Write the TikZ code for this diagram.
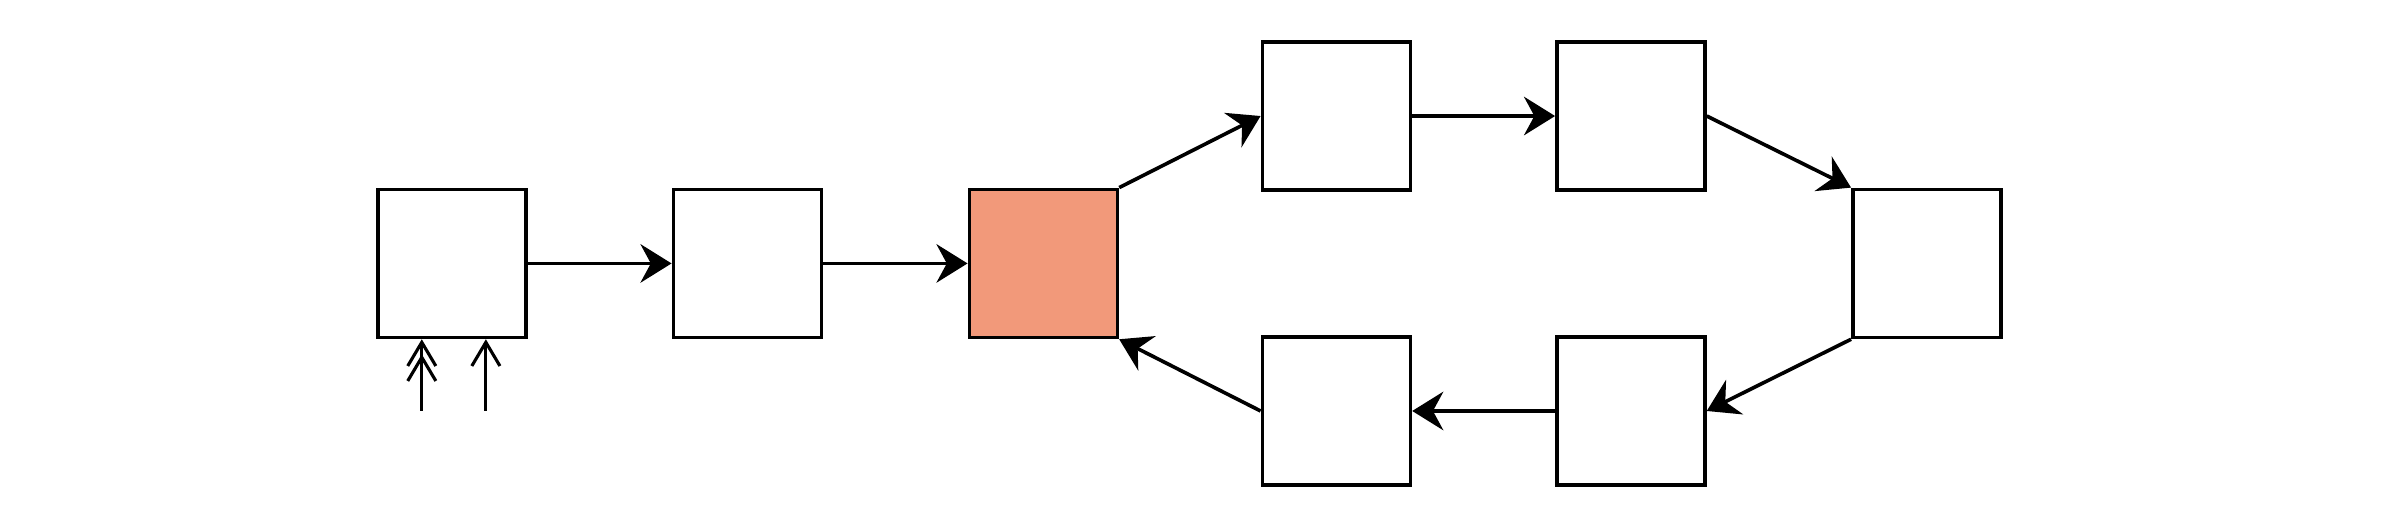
\documentclass[tikz,border=0pt]{standalone}
\usepackage{tikz}
\usetikzlibrary{arrows.meta, positioning}
\definecolor{mysalmon}{HTML}{F2997A}
\tikzset{
	boxnode/.style={
			shape=rectangle,
			draw=black,
			line width=0.7pt,
			fill=white,
			minimum size=10mm,
			inner sep=0pt
		},
	hotnode/.style={
			boxnode,
			fill=mysalmon
		},
	flow/.style={
			line width=0.7pt,
			-{Stealth[length=2.1mm, width=2.6mm, inset=0.7mm]}
		},
	inflow/.style={
			line width=0.6pt,
			-{Straight Barb[length=1.6mm, width=1.9mm]}
		},
	inflowtwo/.style={
			line width=0.6pt,
			-{Straight Barb[length=1.6mm, width=1.9mm, sep=-0.9mm] Straight Barb[length=1.6mm, width=1.9mm]}
		}
}
\begin{document}
\begin{tikzpicture}

  \useasboundingbox (0,0) rectangle (16.095,3.514);

  \node[boxnode] (m1) at (3.054,1.734) {};
  \node[boxnode] (m2) at (5.05,1.734) {};
  \node[hotnode] (m3) at (7.05,1.734) {};
  \node[boxnode] (t1) at (9.03,2.73) {};
  \node[boxnode] (t2) at (11.02,2.73) {};
  \node[boxnode] (r1) at (13.02,1.734) {};
  \node[boxnode] (b2) at (11.02,0.737) {};
  \node[boxnode] (b1) at (9.03,0.737) {};

  \coordinate (in1) at (2.85,0.737);
  \coordinate (in2) at (3.283,0.737);

  \draw[flow] (m1) -- (m2);
  \draw[flow] (m2) -- (m3);
  \draw[flow] (m3.north east) -- (t1.west);
  \draw[flow] (t1) -- (t2);
  \draw[flow] (t2.east) -- (r1.north west);
  \draw[flow] (r1.south west) -- (b2.east);
  \draw[flow] (b2) -- (b1);
  \draw[flow] (b1.west) -- (m3.south east);

  \draw[inflowtwo] (in1) -- (in1 |- m1.south);
  \draw[inflow] (in2) -- (in2 |- m1.south);

\end{tikzpicture}
\end{document}
